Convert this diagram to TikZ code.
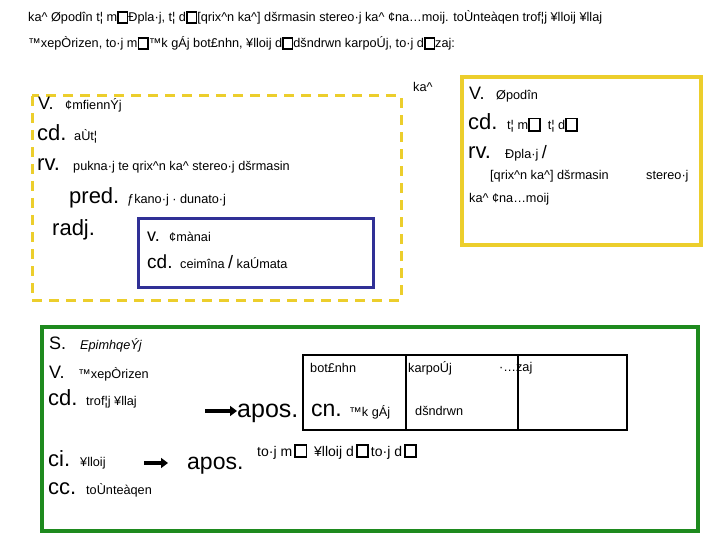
\documentclass[tikz,border=0pt]{standalone}
\usepackage{fontspec}
\setmainfont{Liberation Sans}
\usetikzlibrary{arrows.meta}
\definecolor{ylw}{RGB}{236,206,44}
\definecolor{navy}{RGB}{48,48,150}
\definecolor{grn}{RGB}{30,138,30}
\newcommand\crt{\textasciicircum}
\newcommand\tofu{\begingroup\setlength\fboxrule{1.6pt}\setlength\fboxsep{0pt}\fbox{\rule{0pt}{9pt}\rule{8pt}{0pt}}\endgroup}
\newcommand\tofub{\begingroup\setlength\fboxrule{1.8pt}\setlength\fboxsep{0pt}\fbox{\rule{0pt}{10.5pt}\rule{9.5pt}{0pt}}\endgroup}
\tikzset{
  lab/.style={font=\fontsize{22}{22}\selectfont, anchor=base west, inner sep=0pt},
  labv/.style={font=\fontsize{18}{18}\selectfont, anchor=base west, inner sep=0pt},
  big/.style={font=\fontsize{24}{24}\selectfont, anchor=base west, inner sep=0pt},
  gk/.style={font=\fontsize{12.7}{12.7}\selectfont, anchor=base west, inner sep=0pt},
  arr/.style={line width=3.5pt, -{Triangle[length=7pt,width=10pt]}},
}
\begin{document}
\begin{tikzpicture}[x=1pt,y=-1pt]
\useasboundingbox (0,0) rectangle (720,540);
% top lines
\node[gk] (t1) at (28,22) {ka\crt{} Øpodîn t¦ m\tofu Ðpla·j, t¦ d\tofu[qrix\crt n ka\crt] dšrmasin stereo·j ka\crt{} ¢na…moij. toÙnteàqen trof¦j ¥lloij ¥llaj};
\node[gk] (t2) at (28,48) {™xepÒrizen, to·j m\tofu™k gÁj bot£nhn, ¥lloij d\tofu{}dšndrwn karpoÚj, to·j d\tofu zaj:};
% left dashed box
\draw[ylw, line width=3pt, dash pattern=on 10pt off 7pt] (32,96) rectangle (401,300);
\node[labv] (l1) at (38,110) {V.};
\node[gk] (l1t) at (65,110) {¢mfiennÝj};
\node[lab] (l2) at (37,141) {cd.};
\node[gk] (l2t) at (74,141) {aÙt¦};
\node[lab] (l3) at (37,171) {rv.};
\node[gk] (l3t) at (73,171) {pukna·j te qrix\crt n ka\crt{} stereo·j dšrmasin};
\node[lab] (l4) at (69,204) {pred.};
\node[gk] (l4t) at (127,204) {ƒkano·j · dunato·j};
\node[lab] (l5) at (52,236) {radj.};
% blue box
\draw[navy, line width=3pt] (138,219) rectangle (373,287);
\node[labv] (b1) at (147,241) {v.};
\node[gk] (b1t) at (169,241) {¢mànai};
\node[font=\fontsize{19}{19}\selectfont, anchor=base west, inner sep=0pt] (b2) at (147,268) {cd.};
\node[gk] (b2t) at (180,268) {ceimîna {\fontsize{18}{18}\selectfont /} kaÚmata};
% right yellow box
\node[gk] (rk) at (413,92) {ka\crt};
\draw[ylw, line width=3.5pt] (462,77) rectangle (701,245);
\node[labv] (r1) at (469,100) {V.};
\node[gk] (r1t) at (496,100) {Øpodîn};
\node[lab] (r2) at (468,130) {cd.};
\node[gk] (r2t) at (507,130) {t¦ m\tofub\hspace{3pt} t¦ d\tofub};
\node[lab] (r3) at (468,159) {rv.};
\node[gk] (r3t) at (505,159) {Ðpla·j {\fontsize{18}{18}\selectfont /}};
\node[gk] (r4t) at (490,180) {[qrix\crt n ka\crt] dšrmasin};
\node[gk] (r5t) at (646,180) {stereo·j};
\node[gk] (r6t) at (469,203) {ka\crt{} ¢na…moij};
% green box
\draw[grn, line width=3.5pt] (42,327) rectangle (698,531);
\node[labv] (g1) at (49,349) {S.};
\node[gk] (g1t) at (80,349) {\itshape EpimhqeÝj};
\node[labv] (g2) at (49,378) {V.};
\node[gk] (g2t) at (78,378) {™xepÒrizen};
\node[lab] (g3) at (48,405) {cd.};
\node[gk] (g3t) at (86,405) {trof¦j ¥llaj};
\node[lab] (g4) at (48,466) {ci.};
\node[gk] (g4t) at (80,466) {¥lloij};
\node[lab] (g5) at (48,494) {cc.};
\node[gk] (g5t) at (86,494) {toÙnteàqen};
% apos 1 + table
\coordinate (a1s) at (205,411);
\node[big, font=\fontsize{25}{25}\selectfont] (ap1) at (237,417) {apos.};
\draw[arr] (a1s) -- (ap1.west |- a1s);
\draw[line width=1.2pt] (303,355) rectangle (627,430);
\draw[line width=1.2pt] (406,355) -- (406,430);
\draw[line width=1.2pt] (518,355) -- (518,430);
\node[gk] (c1a) at (310,372) {bot£nhn};
\node[big, font=\fontsize{23}{23}\selectfont] (c1b) at (311,416) {cn.};
\node[gk] (c1c) at (349,416) {™k gÁj};
\node[gk] (c2a) at (408,372) {karpoÚj};
\node[gk] (c2b) at (415,415) {dšndrwn};
\node[gk] (c3a) at (499,371) {·…zaj};
% apos 2
\coordinate (a2s) at (144,463);
\coordinate (a2e) at (168,463);
\node[big, font=\fontsize{23}{23}\selectfont] (ap2) at (187,469) {apos.};
\draw[arr] (a2s) -- (a2e);
\node[gk, font=\fontsize{14}{14}\selectfont] (ap2t) at (257,456) {to·j m\hspace{2pt}\tofub\hspace{3pt} ¥lloij d\hspace{2pt}\tofub\hspace{2pt}to·j d\hspace{2pt}\tofub};
\end{tikzpicture}
\end{document}
